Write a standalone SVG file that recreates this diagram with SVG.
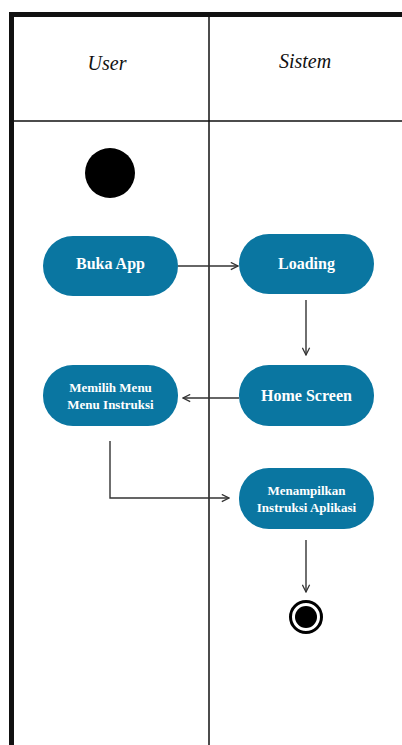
<svg xmlns="http://www.w3.org/2000/svg" width="402" height="745" viewBox="0 0 402 745">
  <style>
    .lane { stroke: #111; fill: none; }
    .head { font-family: "Liberation Serif", serif; font-style: italic; font-size: 20px; fill: #111; text-anchor: middle; }
    .act rect { fill: #0a76a1; }
    .act text { font-family: "Liberation Serif", serif; fill: #fff; text-anchor: middle; }
    .big { font-size: 16px; font-weight: bold; }
    .small { font-size: 13px; font-weight: bold; }
    .flow { stroke: #333; stroke-width: 1.4; fill: none; marker-end: url(#arrow); }
  </style>
  <defs>
    <marker id="arrow" viewBox="0 0 10 10" refX="9" refY="5" markerWidth="9" markerHeight="9" markerUnits="userSpaceOnUse" orient="auto">
      <path d="M1,1 L9,5 L1,9" fill="none" stroke="#333" stroke-width="1.4"/>
    </marker>
  </defs>
  <rect width="402" height="745" fill="#fff"/>

  <!-- swimlane frame -->
  <g id="lanes">
    <line class="lane" x1="9" y1="14.5" x2="402" y2="14.5" stroke-width="5"/>
    <line class="lane" x1="11.5" y1="12" x2="11.5" y2="745" stroke-width="5"/>
    <line class="lane" x1="14" y1="121" x2="402" y2="121" stroke-width="1.5"/>
    <line class="lane" x1="209" y1="17" x2="209" y2="745" stroke-width="1.5"/>
    <text class="head" x="107" y="70">User</text>
    <text class="head" x="305" y="68">Sistem</text>
  </g>

  <!-- connectors -->
  <g id="connectors">
    <line class="flow" x1="178" y1="266" x2="238" y2="266"/>
    <line class="flow" x1="306" y1="300" x2="306" y2="355"/>
    <line class="flow" x1="239" y1="398" x2="183" y2="398"/>
    <polyline class="flow" points="110,441 110,498 229,498"/>
    <line class="flow" x1="306" y1="540" x2="306" y2="592"/>
  </g>

  <g id="start">
    <circle cx="110" cy="173" r="25" fill="#000"/>
  </g>

  <g id="buka-app" class="act">
    <rect x="43" y="236" width="135" height="60" rx="30"/>
    <text class="big" x="110.5" y="269">Buka App</text>
  </g>

  <g id="loading" class="act">
    <rect x="239" y="234" width="135" height="60" rx="30"/>
    <text class="big" x="306.5" y="268.5">Loading</text>
  </g>

  <g id="home-screen" class="act">
    <rect x="239" y="365" width="135" height="61" rx="30"/>
    <text class="big" x="306.5" y="400.5">Home Screen</text>
  </g>

  <g id="memilih-menu" class="act">
    <rect x="43" y="365" width="135" height="61" rx="30"/>
    <text class="small" x="110.5" y="392">Memilih Menu</text>
    <text class="small" x="110.5" y="409">Menu Instruksi</text>
  </g>

  <g id="menampilkan" class="act">
    <rect x="239" y="468" width="135" height="61" rx="30"/>
    <text class="small" x="306.5" y="495">Menampilkan</text>
    <text class="small" x="306.5" y="512">Instruksi Aplikasi</text>
  </g>

  <g id="end">
    <circle cx="306" cy="617" r="15.5" fill="none" stroke="#000" stroke-width="3"/>
    <circle cx="306" cy="617" r="11" fill="#000"/>
  </g>
</svg>
